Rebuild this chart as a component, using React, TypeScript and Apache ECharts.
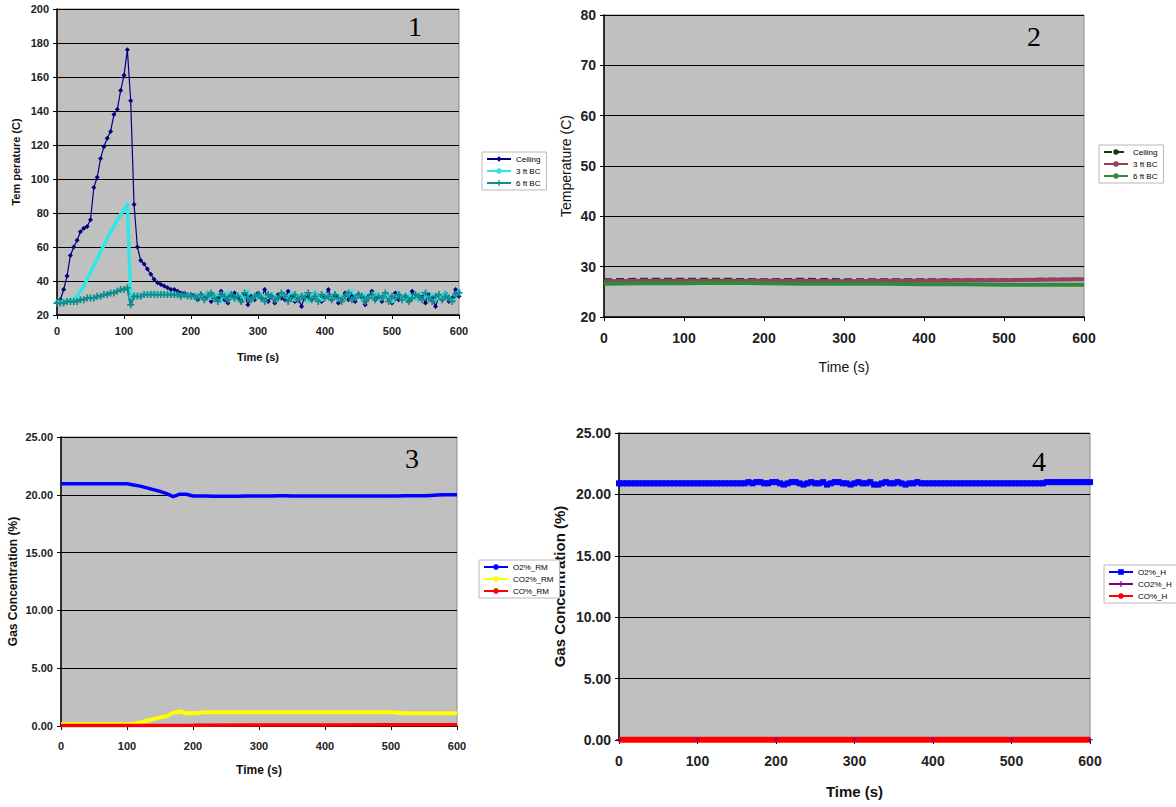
import React, { useEffect, useRef } from "react";
import * as echarts from "echarts";

// ---------- Panel 1 : Temperature, test 1 (sampled every 5 s) ----------
const p1Time = Array.from({ length: 121 }, (_, i) => i * 5);
const p1Ceiling = [
  27, 29, 35, 43, 55, 60, 64, 69, 71, 72, 76, 95, 101, 112, 119, 124, 128, 138, 141, 152,
  161, 176, 146, 85, 60, 52, 50, 47, 44, 41, 39, 38, 37, 36, 35, 35, 34, 33, 33, 32, 32,
  31, 29, 32, 30, 33, 28, 31, 30, 34, 29,
  27, 31, 33, 30, 28, 32, 26, 31, 29, 33,
  30, 35, 28, 31, 27, 32, 30, 29, 34, 31,
  28, 30, 25, 32, 31, 29, 33, 30, 28, 31,
  35, 29, 31, 27, 30, 33, 29, 31, 28, 32,
  30, 26, 31, 34, 29, 30, 28, 32, 31, 27,
  33, 29, 30, 31, 28, 34, 30, 29, 31, 27,
  32, 30, 25, 31, 29, 33, 28, 30, 35, 31,
];
const p1Bc3 = [
  28, 28, 28, 28, 29, 29, 31, 34, 37, 41, 45, 49, 53, 57, 61, 65, 69, 72, 76, 79,
  82, 85, 31, 32, 32, 31, 32, 32, 32, 33, 32, 33, 32, 32, 32, 32, 31, 32, 31, 32, 31,
  30, 32, 31, 29, 33, 30, 31, 32, 28, 31,
  33, 30, 29, 32, 31, 30, 34, 29, 31, 30,
  32, 28, 31, 33, 30, 29, 32, 31, 30, 33,
  29, 31, 30, 32, 28, 31, 33, 30, 29, 32,
  31, 30, 33, 29, 31, 30, 32, 34, 30, 31,
  29, 32, 30, 31, 33, 29, 30, 32, 31, 28,
  31, 33, 30, 29, 32, 31, 30, 29, 33, 31,
  30, 32, 29, 31, 30, 33, 31, 29, 32, 34,
];
const p1Bc6 = [
  27, 27, 27, 28, 28, 28, 28, 29, 29, 30, 30, 30, 31, 31, 32, 32, 33, 33, 34, 35,
  35, 36, 26, 31, 31, 31, 32, 32, 32, 32, 32, 32, 32, 32, 32, 32, 32, 31, 32, 31, 31,
  31, 30, 32, 29, 31, 33, 30, 28, 32, 31,
  29, 32, 30, 31, 28, 33, 30, 29, 31, 32,
  30, 28, 32, 31, 29, 30, 33, 31, 28, 30,
  32, 29, 31, 30, 33, 29, 31, 28, 32, 30,
  31, 29, 32, 30, 28, 31, 33, 29, 30, 32,
  31, 28, 30, 32, 29, 31, 30, 33, 28, 31,
  30, 32, 29, 31, 28, 30, 32, 31, 29, 33,
  30, 28, 31, 32, 29, 31, 30, 28, 32, 33,
];

// ---------- Panel 2 : Temperature, test 2 ----------
const p2Time = [0, 50, 100, 150, 200, 250, 300, 350, 400, 450, 500, 550, 600];
const p2Ceiling = [27.4, 27.5, 27.5, 27.5, 27.4, 27.5, 27.4, 27.4, 27.4, 27.4, 27.4, 27.5, 27.5];
const p2Bc3 = [27.1, 27.2, 27.2, 27.2, 27.2, 27.2, 27.1, 27.2, 27.2, 27.3, 27.3, 27.4, 27.5];
const p2Bc6 = [26.6, 26.7, 26.7, 26.8, 26.7, 26.6, 26.6, 26.6, 26.5, 26.5, 26.4, 26.4, 26.4];

// ---------- Panel 3 : Gas concentration, room ----------
const p3Time = Array.from({ length: 61 }, (_, i) => i * 10);
const p3O2 = [
  20.95, 20.95, 20.95, 20.95, 20.95, 20.95, 20.95, 20.95, 20.95, 20.95, 20.95,
  20.85, 20.75, 20.6, 20.45, 20.3, 20.1, 19.85, 20.05, 20.05, 19.9,
  19.9, 19.9, 19.88, 19.88, 19.88, 19.88, 19.88, 19.9, 19.9, 19.9,
  19.9, 19.9, 19.92, 19.92, 19.9, 19.9, 19.9, 19.9, 19.9, 19.9,
  19.9, 19.9, 19.9, 19.9, 19.9, 19.9, 19.9, 19.9, 19.9, 19.9,
  19.9, 19.92, 19.92, 19.92, 19.92, 19.95, 19.98, 20.0, 20.0, 20.0,
];
const p3Co2 = [
  0.15, 0.15, 0.15, 0.15, 0.15, 0.15, 0.15, 0.15, 0.15, 0.15, 0.15,
  0.2, 0.3, 0.45, 0.6, 0.75, 0.85, 1.15, 1.25, 1.1, 1.1,
  1.15, 1.2, 1.2, 1.2, 1.2, 1.2, 1.2, 1.2, 1.2, 1.2,
  1.2, 1.2, 1.2, 1.2, 1.2, 1.2, 1.2, 1.2, 1.2, 1.2,
  1.2, 1.2, 1.2, 1.2, 1.2, 1.2, 1.2, 1.2, 1.2, 1.2,
  1.15, 1.1, 1.1, 1.1, 1.1, 1.1, 1.1, 1.1, 1.1, 1.1,
];
const p3CoTime = [0, 100, 200, 300, 400, 500, 600];
const p3Co = [0.05, 0.05, 0.06, 0.08, 0.09, 0.1, 0.1];

// ---------- Panel 4 : Gas concentration, hallway ----------
const p4Time = Array.from({ length: 121 }, (_, i) => i * 5);
const p4O2 = [
  20.9, 20.9, 20.9, 20.9, 20.9, 20.9, 20.9, 20.9, 20.9, 20.9, 20.9,
  20.9, 20.9, 20.9, 20.9, 20.9, 20.9, 20.9, 20.9, 20.9, 20.9, 20.9,
  20.9, 20.9, 20.9, 20.9, 20.9, 20.9, 20.9, 20.9, 20.9, 20.9, 20.9,
  21.0, 20.9, 21.0, 21.0, 20.9, 20.9, 21.0, 21.0, 20.9, 20.8,
  20.9, 21.0, 21.0, 20.9, 20.8, 20.9, 21.0, 20.9, 20.9, 21.0,
  20.8, 20.9, 21.0, 21.0, 20.9, 20.9, 20.8, 20.9, 21.0, 20.9,
  20.9, 21.0, 20.8, 20.8, 20.9, 21.0, 20.9, 20.9, 21.0, 20.9,
  20.8, 20.9, 20.9, 21.0,
  20.9, 20.9, 20.9, 20.9, 20.9, 20.9, 20.9, 20.9, 20.9, 20.9, 20.9,
  20.9, 20.9, 20.9, 20.9, 20.9, 20.9, 20.9, 20.9, 20.9, 20.9, 20.9,
  20.9, 20.9, 20.9, 20.9, 20.9, 20.9, 20.9, 20.9, 20.9, 20.9,
  21.0, 21.0, 21.0, 21.0, 21.0, 21.0, 21.0, 21.0, 21.0, 21.0, 21.0, 21.0,
];
const p4GasTime = [0, 100, 200, 300, 400, 500, 600];
const p4Co2 = [0.03, 0.03, 0.03, 0.03, 0.03, 0.03, 0.03];
const p4Co = [0.03, 0.03, 0.03, 0.03, 0.03, 0.03, 0.03];

// ---------- Tick settings ----------
const timeTicks = { min: 0, max: 600, interval: 100 };
const p1TempTicks = { min: 20, max: 200, interval: 20 };
const p2TempTicks = { min: 20, max: 80, interval: 10 };
const gasTicks = { min: 0, max: 25, interval: 5 };

const SANS = "'Liberation Sans', Arial, sans-serif";
const SERIF = "'Liberation Serif', 'Times New Roman', serif";

const pairs = (xs: number[], ys: number[]) => xs.map((x, i) => [x, ys[i]]);

function mkX(gridIndex: number, nameGap: number, labelSize: number, nameSize: number, nameBold: boolean, margin: number) {
  return {
    type: "value",
    gridIndex,
    ...timeTicks,
    name: "Time (s)",
    nameLocation: "middle",
    nameGap,
    nameTextStyle: { fontFamily: SANS, fontSize: nameSize, fontWeight: nameBold ? "bold" : "normal", color: "#111" },
    axisLine: { show: true, onZero: false, lineStyle: { color: "#000", width: 1.5 } },
    axisTick: { show: true, length: 4, lineStyle: { color: "#000" } },
    axisLabel: { fontFamily: SANS, fontSize: labelSize, fontWeight: "bold", color: "#222", margin },
    splitLine: { show: false },
  };
}

function mkY(gridIndex: number, ticks: any, name: string, nameGap: number, labelSize: number, nameSize: number, nameBold: boolean, fmt?: (v: number) => string) {
  return {
    type: "value",
    gridIndex,
    ...ticks,
    name,
    nameLocation: "middle",
    nameRotate: 90,
    nameGap,
    nameTextStyle: { fontFamily: SANS, fontSize: nameSize, fontWeight: nameBold ? "bold" : "normal", color: "#111" },
    axisLine: { show: true, onZero: false, lineStyle: { color: "#000", width: 1.5 } },
    axisTick: { show: true, length: 4, lineStyle: { color: "#000" } },
    axisLabel: {
      fontFamily: SANS, fontSize: labelSize, fontWeight: "bold", color: "#222", margin: 8,
      formatter: fmt ? fmt : (v: number) => String(v),
    },
    splitLine: { show: true, lineStyle: { color: "#000", width: 1 } },
  };
}

const gridBase = { show: true, backgroundColor: "#C0C0C0", borderColor: "#8a8a8a", borderWidth: 1, containLabel: false };

const legendBase = {
  orient: "vertical",
  backgroundColor: "#fff",
  borderColor: "#b8b8b8",
  borderWidth: 1,
  padding: [3, 6, 3, 4],
  itemGap: 4,
  itemWidth: 24,
  itemHeight: 7,
  textStyle: { fontFamily: SANS, fontSize: 8, color: "#000" },
  formatter: (n: string) => n.replace(/#\d$/, ""),
  selectedMode: false,
};

const plus = "path://M3,0h2v3h3v2h-3v3h-2v-3h-3v-2h3z";

export default function App() {
  const ref = useRef<HTMLDivElement>(null);
  useEffect(() => {
    if (!ref.current) return;
    const chart = echarts.init(ref.current, undefined, { renderer: "svg" });
    const option: any = {
      animation: false,
      backgroundColor: "#fff",
      grid: [
        { ...gridBase, left: 57, top: 9, width: 402, height: 306 },
        { ...gridBase, left: 604, top: 15, width: 480, height: 302 },
        { ...gridBase, left: 61, top: 437, width: 396, height: 289 },
        { ...gridBase, left: 619, top: 433, width: 471, height: 307 },
      ],
      xAxis: [
        mkX(0, 36, 11, 11, true, 10),
        mkX(1, 43, 14, 14, false, 14),
        mkX(2, 38, 11, 12, true, 14),
        mkX(3, 44, 14, 15, true, 14),
      ],
      yAxis: [
        mkY(0, p1TempTicks, "Tem perature (C)", 36, 11, 11, true),
        mkY(1, p2TempTicks, "Temperature (C)", 31, 14, 14, false),
        mkY(2, gasTicks, "Gas Concentration (%)", 42, 11, 12, true, (v) => v.toFixed(2)),
        mkY(3, gasTicks, "Gas Concentration (%)", 52, 14, 15, true, (v) => v.toFixed(2)),
      ],
      legend: [
        { ...legendBase, left: 482, top: 152, data: ["Ceiling", "3 ft BC", "6 ft BC"] },
        { ...legendBase, left: 1099, top: 145, data: ["Ceiling#2", "3 ft BC#2", "6 ft BC#2"] },
        { ...legendBase, left: 479, top: 560, data: ["O2%_RM", "CO2%_RM", "CO%_RM"] },
        { ...legendBase, left: 1104, top: 565, data: ["O2%_H", "CO2%_H", "CO%_H"] },
      ],
      graphic: [
        { type: "text", left: 408, top: 12, style: { text: "1", font: `28px ${SERIF}`, fill: "#000" } },
        { type: "text", left: 1027, top: 22, style: { text: "2", font: `28px ${SERIF}`, fill: "#000" } },
        { type: "text", left: 405, top: 444, style: { text: "3", font: `28px ${SERIF}`, fill: "#000" } },
        { type: "text", left: 1032, top: 447, style: { text: "4", font: `28px ${SERIF}`, fill: "#000" } },
      ],
      series: [
        {
          name: "Ceiling", type: "line", xAxisIndex: 0, yAxisIndex: 0, data: pairs(p1Time, p1Ceiling),
          color: "#000080", symbol: "diamond", symbolSize: 5, lineStyle: { width: 1.2 },
        },
        {
          name: "3 ft BC", type: "line", xAxisIndex: 0, yAxisIndex: 0, data: pairs(p1Time, p1Bc3),
          color: "#33E5E5", symbol: "circle", symbolSize: 4, lineStyle: { width: 3.5 },
        },
        {
          name: "6 ft BC", type: "line", xAxisIndex: 0, yAxisIndex: 0, data: pairs(p1Time, p1Bc6),
          color: "#138C8C", symbol: plus, symbolSize: 7, lineStyle: { width: 2.5 },
        },
        {
          name: "Ceiling#2", type: "line", xAxisIndex: 1, yAxisIndex: 1, data: pairs(p2Time, p2Ceiling),
          color: "#0F3D14", symbol: "none", lineStyle: { width: 3, type: [8, 4] },
        },
        {
          name: "3 ft BC#2", type: "line", xAxisIndex: 1, yAxisIndex: 1, data: pairs(p2Time, p2Bc3),
          color: "#9A3D62", symbol: "none", lineStyle: { width: 4 },
        },
        {
          name: "6 ft BC#2", type: "line", xAxisIndex: 1, yAxisIndex: 1, data: pairs(p2Time, p2Bc6),
          color: "#2E8B3A", symbol: "none", lineStyle: { width: 4 },
        },
        {
          name: "O2%_RM", type: "line", xAxisIndex: 2, yAxisIndex: 2, data: pairs(p3Time, p3O2),
          color: "#0000FF", symbol: "none", lineStyle: { width: 3.5 },
        },
        {
          name: "CO2%_RM", type: "line", xAxisIndex: 2, yAxisIndex: 2, data: pairs(p3Time, p3Co2),
          color: "#FFFF00", symbol: "none", lineStyle: { width: 4 },
        },
        {
          name: "CO%_RM", type: "line", xAxisIndex: 2, yAxisIndex: 2, data: pairs(p3CoTime, p3Co),
          color: "#FF0000", symbol: "none", lineStyle: { width: 3.5 },
        },
        {
          name: "O2%_H", type: "line", xAxisIndex: 3, yAxisIndex: 3, data: pairs(p4Time, p4O2),
          color: "#0000FF", symbol: "rect", symbolSize: 6, lineStyle: { width: 5 },
        },
        {
          name: "CO2%_H", type: "line", xAxisIndex: 3, yAxisIndex: 3, data: pairs(p4GasTime, p4Co2),
          color: "#800080", symbol: plus, symbolSize: 5, lineStyle: { width: 3 },
        },
        {
          name: "CO%_H", type: "line", xAxisIndex: 3, yAxisIndex: 3, data: pairs(p4GasTime, p4Co),
          color: "#FF0000", symbol: "none", lineStyle: { width: 6 },
        },
      ],
    };
    chart.setOption(option);
    return () => chart.dispose();
  }, []);
  return (
    <div
      ref={ref}
      style={{ position: "absolute", left: 0, top: 0, width: 1176, height: 807 }}
    />
  );
}
